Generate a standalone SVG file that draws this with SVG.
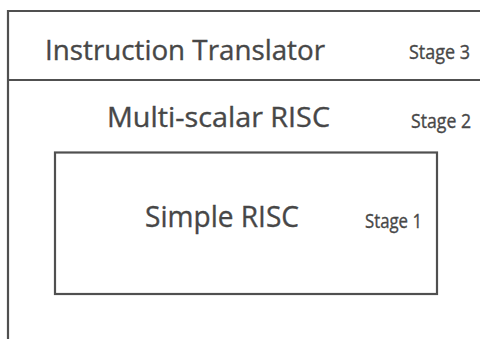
<svg xmlns="http://www.w3.org/2000/svg" width="480" height="339" viewBox="0 0 480 339">
<style>
.ln{fill:none;stroke:#505050;stroke-width:2.2}
.t{font-family:"Open Sans","Liberation Sans",sans-serif;fill:#474747;stroke:#474747;stroke-width:0.35}
.big{font-size:27px}
.stg{font-size:20px}
</style>
<rect width="480" height="339" fill="#ffffff"/>
<g id="stage3">
<path class="ln" d="M8,345 V11 H482"/>
<line class="ln" x1="8" y1="80" x2="482" y2="80"/>
<text class="t big" x="45" y="60" textLength="280" lengthAdjust="spacingAndGlyphs">Instruction Translator</text>
<text class="t stg" x="409" y="59" textLength="61" lengthAdjust="spacingAndGlyphs">Stage 3</text>
</g>
<g id="stage2">
<text class="t big" x="107" y="127" textLength="223" lengthAdjust="spacingAndGlyphs">Multi-scalar RISC</text>
<text class="t stg" x="411" y="128" textLength="60" lengthAdjust="spacingAndGlyphs">Stage 2</text>
</g>
<g id="stage1">
<rect class="ln" x="55" y="152.5" width="382" height="141.5"/>
<text class="t" style="font-size:30px" x="145" y="227" textLength="154" lengthAdjust="spacingAndGlyphs">Simple RISC</text>
<text class="t stg" x="365" y="228" textLength="57" lengthAdjust="spacingAndGlyphs">Stage 1</text>
</g>
<g id="connectors"/>
</svg>
